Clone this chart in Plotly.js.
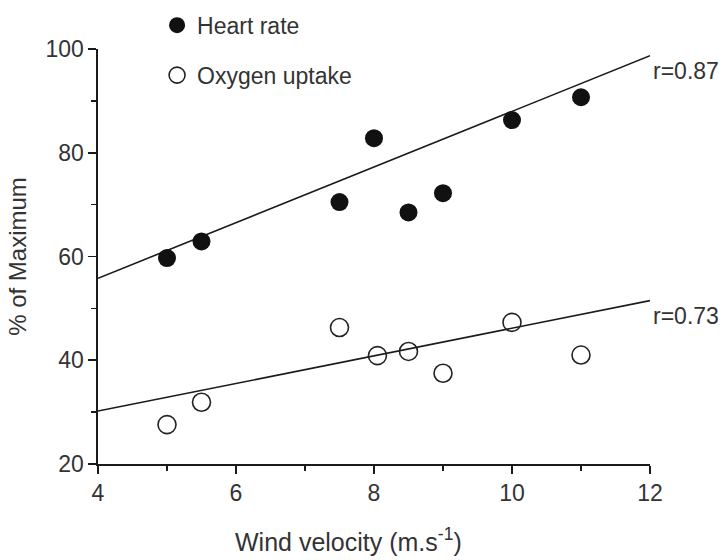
<!DOCTYPE html>
<html>
<head>
<meta charset="utf-8">
<script src="https://cdn.plot.ly/plotly-3.0.1.min.js"></script>
<style>html,body{margin:0;padding:0;background:#fff;}#chart{width:722px;height:560px;}</style>
</head>
<body>
<div id="chart"></div>
<script>
// Data
const windVelocity = [5, 5.5, 7.5, 8, 8.5, 9, 10, 11];
const heartRate = [59.7, 62.9, 70.5, 82.8, 68.5, 72.2, 86.3, 90.7];
const oxygenX = [5, 5.5, 7.5, 8.05, 8.5, 9, 10, 11];
const oxygenUptake = [27.6, 31.9, 46.3, 40.9, 41.7, 37.5, 47.3, 41.0];
const fitX = [4, 12];
const heartFit = [55.8, 98.7];
const oxygenFit = [30.2, 51.5];
const heartR = "r=0.87";
const oxygenR = "r=0.73";
const xTickVals = [4, 6, 8, 10, 12];
const yTickVals = [20, 40, 60, 80, 100];
const xTitle = "Wind velocity (m.s<sup>-1</sup>)";
const yTitle = "% of Maximum";

const FONT = "Liberation Sans, Arial, sans-serif";
const TXT = "#333333";
const INK = "#1a1a1a";
const FS = 23;

const traces = [
  {x: fitX, y: heartFit, mode: "lines", line: {color: INK, width: 1.6}, showlegend: false, hoverinfo: "skip"},
  {x: fitX, y: oxygenFit, mode: "lines", line: {color: INK, width: 1.6}, showlegend: false, hoverinfo: "skip"},
  {x: windVelocity, y: heartRate, mode: "markers", name: "Heart rate", legendgroup: "a",
   marker: {symbol: "circle", size: 18, color: "#111111", line: {color: "#111111", width: 0}}},
  {x: oxygenX, y: oxygenUptake, mode: "markers", name: "Oxygen uptake", legendgroup: "b",
   marker: {symbol: "circle-open", size: 18, color: "#222222", line: {color: "#222222", width: 1.6}}}
];

const layout = {
  width: 722, height: 560,
  margin: {l: 98, r: 72, t: 49, b: 96, autoexpand: false},
  paper_bgcolor: "#fff", plot_bgcolor: "#fff",
  font: {family: FONT, size: FS, color: TXT},
  showlegend: true,
  legend: {x: 0.107, xanchor: "left", y: 1.109, yanchor: "top",
           bgcolor: "rgba(0,0,0,0)",
           font: {family: FONT, size: FS, color: TXT}, tracegroupgap: 17, traceorder: "grouped", itemwidth: 30},
  xaxis: {
    range: [4, 12], tickvals: xTickVals, ticktext: xTickVals.map(String),
    showgrid: false, zeroline: false, showline: true, linecolor: INK, linewidth: 1.6,
    ticks: "outside", ticklen: 8, tickwidth: 1.6, tickcolor: INK,
    minor: {dtick: 1, tick0: 4, ticks: "outside", ticklen: 5, tickwidth: 1.4, tickcolor: INK, showgrid: false},
    tickfont: {size: FS, color: TXT}, automargin: false
  },
  yaxis: {
    range: [20, 100], tickvals: yTickVals, ticktext: yTickVals.map(String),
    showgrid: false, zeroline: false, showline: true, linecolor: INK, linewidth: 1.6,
    ticks: "outside", ticklen: 8, tickwidth: 1.6, tickcolor: INK,
    minor: {dtick: 10, tick0: 20, ticks: "outside", ticklen: 5, tickwidth: 1.4, tickcolor: INK, showgrid: false},
    tickfont: {size: FS, color: TXT}, automargin: false,
    title: {text: yTitle, font: {size: 24, color: TXT}, standoff: 12}
  },
  annotations: [
    {x: fitX[1], y: heartFit[1], text: heartR, showarrow: false, xanchor: "left", yanchor: "middle",
     xshift: 1, yshift: -15, font: {size: FS, color: TXT}},
    {x: fitX[1], y: oxygenFit[1], text: oxygenR, showarrow: false, xanchor: "left", yanchor: "middle",
     xshift: 1, yshift: -15, font: {size: FS, color: TXT}},
    {xref: "paper", yref: "paper", x: 0.453, y: -0.184, text: xTitle, showarrow: false,
     xanchor: "center", yanchor: "middle", font: {size: 25, color: TXT}}
  ]
};

Plotly.newPlot("chart", traces, layout, {displayModeBar: false, staticPlot: true});
</script>
</body>
</html>
